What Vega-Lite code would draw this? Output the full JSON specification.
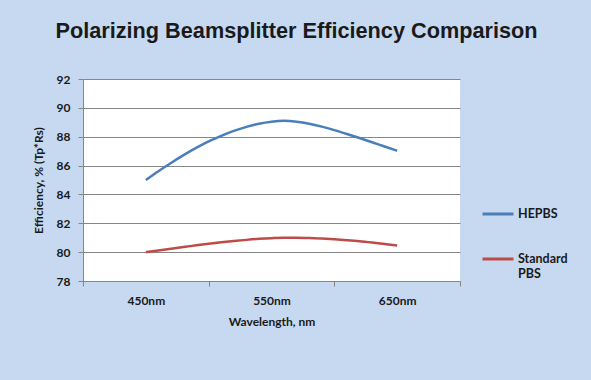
{
  "$schema": "https://vega.github.io/schema/vega-lite/v6.json",
  "width": 377,
  "height": 202,
  "autosize": "none",
  "padding": {"left": 83, "top": 79, "right": 131, "bottom": 99},
  "background": "#c6d9f1",
  "title": {
    "text": "Polarizing Beamsplitter Efficiency Comparison",
    "font": "Liberation Sans",
    "fontSize": 21.7,
    "fontWeight": "bold",
    "color": "#1a1a1a",
    "anchor": "middle",
    "frame": "group",
    "dx": 25,
    "offset": 30
  },
  "config": {
    "view": {"fill": "white", "stroke": null},
    "axis": {
      "labelFont": "Lato",
      "labelFontWeight": "bold",
      "labelFontSize": 12,
      "labelColor": "#1a1a1a",
      "titleFont": "Lato",
      "titleFontWeight": "bold",
      "titleFontSize": 12,
      "titleColor": "#1a1a1a",
      "domainColor": "#868686",
      "tickColor": "#868686",
      "gridColor": "#868686",
      "tickSize": 5
    },
    "legend": {
      "labelFont": "Lato",
      "labelFontWeight": "bold",
      "labelFontSize": 12.5,
      "labelColor": "#1a1a1a"
    }
  },
  "data": {
    "values": [
      {"wl": 450, "series": "HEPBS", "eff": 85.0},
      {"wl": 460, "series": "HEPBS", "eff": 85.61},
      {"wl": 470, "series": "HEPBS", "eff": 86.18},
      {"wl": 480, "series": "HEPBS", "eff": 86.72},
      {"wl": 490, "series": "HEPBS", "eff": 87.22},
      {"wl": 500, "series": "HEPBS", "eff": 87.67},
      {"wl": 510, "series": "HEPBS", "eff": 88.06},
      {"wl": 520, "series": "HEPBS", "eff": 88.4},
      {"wl": 530, "series": "HEPBS", "eff": 88.68},
      {"wl": 540, "series": "HEPBS", "eff": 88.9},
      {"wl": 550, "series": "HEPBS", "eff": 89.04},
      {"wl": 560, "series": "HEPBS", "eff": 89.1},
      {"wl": 570, "series": "HEPBS", "eff": 89.04},
      {"wl": 580, "series": "HEPBS", "eff": 88.9},
      {"wl": 590, "series": "HEPBS", "eff": 88.7},
      {"wl": 600, "series": "HEPBS", "eff": 88.46},
      {"wl": 610, "series": "HEPBS", "eff": 88.19},
      {"wl": 620, "series": "HEPBS", "eff": 87.91},
      {"wl": 630, "series": "HEPBS", "eff": 87.62},
      {"wl": 640, "series": "HEPBS", "eff": 87.32},
      {"wl": 650, "series": "HEPBS", "eff": 87.03},
      {"wl": 450, "series": "Standard PBS", "eff": 80.0},
      {"wl": 460, "series": "Standard PBS", "eff": 80.12},
      {"wl": 470, "series": "Standard PBS", "eff": 80.24},
      {"wl": 480, "series": "Standard PBS", "eff": 80.36},
      {"wl": 490, "series": "Standard PBS", "eff": 80.47},
      {"wl": 500, "series": "Standard PBS", "eff": 80.58},
      {"wl": 510, "series": "Standard PBS", "eff": 80.68},
      {"wl": 520, "series": "Standard PBS", "eff": 80.77},
      {"wl": 530, "series": "Standard PBS", "eff": 80.85},
      {"wl": 540, "series": "Standard PBS", "eff": 80.92},
      {"wl": 550, "series": "Standard PBS", "eff": 80.97},
      {"wl": 560, "series": "Standard PBS", "eff": 81.0},
      {"wl": 570, "series": "Standard PBS", "eff": 81.0},
      {"wl": 580, "series": "Standard PBS", "eff": 80.98},
      {"wl": 590, "series": "Standard PBS", "eff": 80.94},
      {"wl": 600, "series": "Standard PBS", "eff": 80.89},
      {"wl": 610, "series": "Standard PBS", "eff": 80.83},
      {"wl": 620, "series": "Standard PBS", "eff": 80.76},
      {"wl": 630, "series": "Standard PBS", "eff": 80.67},
      {"wl": 640, "series": "Standard PBS", "eff": 80.57},
      {"wl": 650, "series": "Standard PBS", "eff": 80.46}
    ]
  },
  "mark": {"type": "line", "strokeWidth": 2.5, "interpolate": "monotone"},
  "encoding": {
    "x": {
      "field": "wl",
      "type": "quantitative",
      "scale": {"domain": [400, 700], "nice": false, "zero": false},
      "axis": {
        "title": "Wavelength, nm",
        "values": [400, 450, 500, 550, 600, 650, 700],
        "labelExpr": "datum.value % 100 == 50 ? datum.value + 'nm' : ''",
        "tickOpacity": {"condition": {"test": "datum.value % 100 == 0", "value": 1}, "value": 0},
        "grid": false,
        "labelPadding": 9,
        "titlePadding": 10
      }
    },
    "y": {
      "field": "eff",
      "type": "quantitative",
      "scale": {"domain": [78, 92], "nice": false, "zero": false},
      "axis": {
        "title": "Efficiency, % (Tp*Rs)",
        "values": [78, 80, 82, 84, 86, 88, 90, 92],
        "grid": true,
        "labelPadding": 8,
        "titlePadding": 11
      }
    },
    "color": {
      "field": "series",
      "type": "nominal",
      "scale": {"domain": ["HEPBS", "Standard PBS"], "range": ["#4a7ebb", "#be4b48"]},
      "legend": {
        "title": null,
        "orient": "none",
        "legendX": 398,
        "legendY": 118,
        "symbolType": "stroke",
        "symbolSize": 961,
        "symbolStrokeWidth": 3,
        "labelOffset": 3,
        "rowPadding": 21,
        "labelExpr": "datum.label == 'Standard PBS' ? ['Standard', 'PBS'] : datum.label"
      }
    }
  }
}
